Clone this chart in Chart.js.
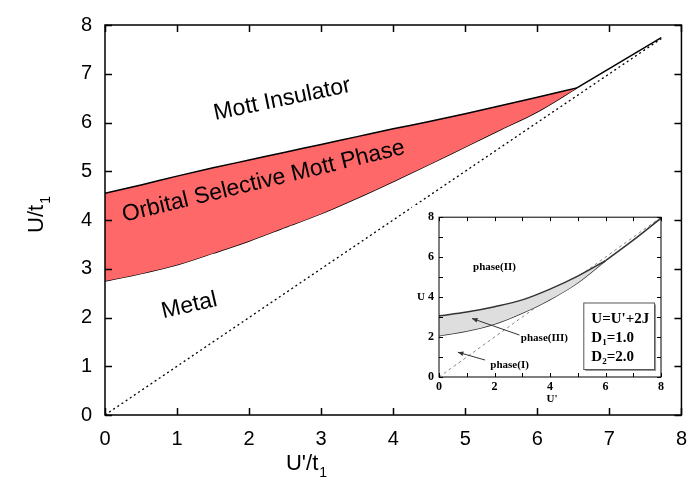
<!DOCTYPE html>
<html>
<head>
<meta charset="utf-8">
<script src="https://cdn.jsdelivr.net/npm/chart.js@4.4.1/dist/chart.umd.min.js"></script>
</head>
<body style="margin:0">
<canvas id="mainChart" width="699" height="487"></canvas>
<canvas id="frameLayer" width="699" height="487" style="position:absolute; left:0; top:0; pointer-events:none"></canvas>
<canvas id="insetChart" width="258" height="203" style="position:absolute; left:412px; top:205px; background:#fff"></canvas>
<script>
// Main phase diagram (U'/t1 vs U/t1)
const mainX = [0, 0.5, 1, 1.5, 2, 2.5, 3, 3.5, 4, 4.5, 5, 5.5, 6, 6.55];
const mainUpper = [4.55, 4.72, 4.9, 5.07, 5.23, 5.39, 5.55, 5.71, 5.87, 6.02, 6.18, 6.35, 6.52, 6.71];
const mainLower = [2.75, 2.9, 3.08, 3.32, 3.57, 3.85, 4.13, 4.45, 4.79, 5.14, 5.5, 5.86, 6.22, 6.71];
const mainTailX = [6.55, 7.72];
const mainTailY = [6.71, 7.74];
const mainDiagX = [0, 7.72];
const mainDiagY = [0, 7.72];
const mainTicks = [0, 1, 2, 3, 4, 5, 6, 7, 8];

// Inset (U' vs U)
const insetX = [0, 1, 2, 3, 4, 5, 6];
const insetUpper = [3.06, 3.25, 3.52, 3.86, 4.4, 5.05, 5.82];
const insetLower = [2.07, 2.3, 2.65, 3.2, 3.88, 4.72, 5.82];
const insetTailX = [6, 7, 8];
const insetTailY = [5.82, 6.85, 7.95];
const insetDiagX = [0, 8];
const insetDiagY = [0, 8];
const insetTickLabels = ['0', '', '2', '', '4', '', '6', '', '8'];

const SANS = '"Liberation Sans", Arial, sans-serif';
const SERIF = '"Liberation Serif", "Times New Roman", serif';

function toPoints(xs, ys) {
    return xs.map((x, i) => ({ x: x, y: ys[i] }));
}

/**
 * Frame plus inward tick marks on all four sides, drawn on ctx
 * using the chart's area and scales
 */
function drawAxesBox(ctx, chart, len, width) {
    const a = chart.chartArea;
    const xScale = chart.scales.x;
    const yScale = chart.scales.y;
    ctx.save();
    ctx.strokeStyle = '#000';
    ctx.lineWidth = width;
    ctx.strokeRect(a.left, a.top, a.right - a.left, a.bottom - a.top);
    xScale.ticks.forEach(t => {
        const p = Math.round(xScale.getPixelForValue(t.value)) + 0.5;
        ctx.beginPath();
        ctx.moveTo(p, a.bottom); ctx.lineTo(p, a.bottom - len);
        ctx.moveTo(p, a.top); ctx.lineTo(p, a.top + len);
        ctx.stroke();
    });
    yScale.ticks.forEach(t => {
        const p = Math.round(yScale.getPixelForValue(t.value)) + 0.5;
        ctx.beginPath();
        ctx.moveTo(a.left, p); ctx.lineTo(a.left + len, p);
        ctx.moveTo(a.right, p); ctx.lineTo(a.right - len, p);
        ctx.stroke();
    });
    ctx.restore();
}

function drawRotated(ctx, text, x, y, deg, font) {
    ctx.save();
    ctx.translate(x, y);
    ctx.rotate(deg * Math.PI / 180);
    ctx.font = font;
    ctx.textAlign = 'center';
    ctx.textBaseline = 'middle';
    ctx.fillStyle = '#000';
    ctx.fillText(text, 0, 0);
    ctx.restore();
}

// text with a subscript, centred at (x,y) after rotation
function drawSubscripted(ctx, base, sub, x, y, deg, size, family) {
    ctx.save();
    ctx.translate(x, y);
    ctx.rotate(deg * Math.PI / 180);
    ctx.fillStyle = '#000';
    ctx.textBaseline = 'alphabetic';
    ctx.font = size + 'px ' + family;
    const wb = ctx.measureText(base).width;
    ctx.font = Math.round(size * 0.62) + 'px ' + family;
    const ws = ctx.measureText(sub).width;
    const x0 = -(wb + ws) / 2;
    ctx.font = size + 'px ' + family;
    ctx.fillText(base, x0, size * 0.36);
    ctx.font = Math.round(size * 0.62) + 'px ' + family;
    ctx.fillText(sub, x0 + wb + 1, size * 0.36 + size * 0.3);
    ctx.restore();
}

/**
 * Main chart decorations: frame (on overlay), phase labels, axis titles
 */
const mainDecor = {
    id: 'mainDecor',
    afterDraw(chart) {
        const ctx = chart.ctx;
        const xs = chart.scales.x;
        const ys = chart.scales.y;

        const layer = document.getElementById('frameLayer');
        if (layer) {
            const lctx = layer.getContext('2d');
            lctx.clearRect(0, 0, layer.width, layer.height);
            drawAxesBox(lctx, chart, 7, 1.5);
        }

        drawRotated(ctx, 'Mott Insulator', xs.getPixelForValue(2.46), ys.getPixelForValue(6.47), -11.8, '23px ' + SANS);
        drawRotated(ctx, 'Orbital Selective Mott Phase', xs.getPixelForValue(2.2), ys.getPixelForValue(4.79), -13.6, '23px ' + SANS);
        drawRotated(ctx, 'Metal', xs.getPixelForValue(1.17), ys.getPixelForValue(2.24), -13, '23px ' + SANS);

        drawSubscripted(ctx, 'U/t', '1', 35, 215, -90, 22, SANS);
        drawSubscripted(ctx, "U'/t", '1', 306, 462, 0, 22, SANS);
    }
};

function initializeMainChart() {
    const ctx = document.getElementById('mainChart');
    if (!ctx) return;

    new Chart(ctx.getContext('2d'), {
        type: 'scatter',
        data: {
            datasets: [{
                data: toPoints(mainX, mainUpper),
                showLine: true,
                borderColor: '#000',
                borderWidth: 1.5,
                backgroundColor: 'rgb(255, 104, 104)',
                fill: '+1',
                pointRadius: 0,
                cubicInterpolationMode: 'monotone'
            }, {
                data: toPoints(mainX, mainLower),
                showLine: true,
                borderColor: '#000',
                borderWidth: 1.5,
                fill: false,
                pointRadius: 0,
                cubicInterpolationMode: 'monotone'
            }, {
                data: toPoints(mainTailX, mainTailY),
                showLine: true,
                borderColor: '#000',
                borderWidth: 1.5,
                fill: false,
                pointRadius: 0
            }, {
                data: toPoints(mainDiagX, mainDiagY),
                showLine: true,
                borderColor: '#000',
                borderWidth: 1.3,
                borderDash: [2, 3],
                fill: false,
                pointRadius: 0
            }]
        },
        options: {
            responsive: false,
            animation: false,
            devicePixelRatio: 1,
            layout: { padding: { left: 0, top: 7, right: 6.4, bottom: 0 } },
            plugins: {
                legend: { display: false },
                tooltip: { enabled: false }
            },
            scales: {
                x: {
                    type: 'linear',
                    min: 0,
                    max: 8,
                    afterFit: s => { s.height = 72; },
                    afterBuildTicks: s => { s.ticks = mainTicks.map(v => ({ value: v })); },
                    grid: { display: false, drawTicks: false },
                    border: { display: false },
                    ticks: {
                        color: '#000',
                        padding: 12,
                        font: { family: SANS, size: 20 }
                    }
                },
                y: {
                    type: 'linear',
                    min: 0,
                    max: 8,
                    afterFit: s => { s.width = 105; },
                    afterBuildTicks: s => { s.ticks = mainTicks.map(v => ({ value: v })); },
                    grid: { display: false, drawTicks: false },
                    border: { display: false },
                    ticks: {
                        color: '#000',
                        padding: 13,
                        font: { family: SANS, size: 20 }
                    }
                }
            }
        },
        plugins: [mainDecor]
    });
}

/**
 * Inset decorations: frame, phase labels, arrows, parameter box
 */
const insetDecor = {
    id: 'insetDecor',
    afterDraw(chart) {
        const ctx = chart.ctx;
        const xs = chart.scales.x;
        const ys = chart.scales.y;
        drawAxesBox(ctx, chart, 4, 1);

        const px = v => xs.getPixelForValue(v);
        const py = v => ys.getPixelForValue(v);
        const font = 'bold 11px ' + SERIF;

        ctx.save();
        ctx.fillStyle = '#000';
        ctx.font = font;
        ctx.textBaseline = 'middle';
        ctx.textAlign = 'center';
        ctx.fillText('phase(II)', px(2.0), py(5.5));
        ctx.textAlign = 'left';
        ctx.fillText('phase(III)', px(2.95), py(1.94));
        ctx.fillText('phase(I)', px(1.85), py(0.6));

        // arrows
        const arrow = (x1, y1, x2, y2) => {
            const ax = px(x1), ay = py(y1), bx = px(x2), by = py(y2);
            const ang = Math.atan2(by - ay, bx - ax);
            ctx.strokeStyle = '#333';
            ctx.lineWidth = 1;
            ctx.beginPath();
            ctx.moveTo(ax, ay);
            ctx.lineTo(bx, by);
            ctx.stroke();
            ctx.fillStyle = '#333';
            ctx.beginPath();
            ctx.moveTo(bx, by);
            ctx.lineTo(bx - 6 * Math.cos(ang - 0.4), by - 6 * Math.sin(ang - 0.4));
            ctx.lineTo(bx - 6 * Math.cos(ang + 0.4), by - 6 * Math.sin(ang + 0.4));
            ctx.closePath();
            ctx.fill();
        };
        arrow(2.9, 2.1, 1.19, 2.93);
        arrow(1.66, 0.85, 0.68, 1.24);

        // parameter box
        const bx = px(5.2), by = py(3.73);
        const bw = px(7.75) - bx, bh = py(0.4) - by;
        ctx.fillStyle = '#999';
        ctx.fillRect(bx + 2, by + 2, bw, bh);
        ctx.fillStyle = '#fff';
        ctx.fillRect(bx, by, bw, bh);
        ctx.strokeStyle = '#555';
        ctx.lineWidth = 1;
        ctx.strokeRect(bx + 0.5, by + 0.5, bw, bh);
        ctx.fillStyle = '#000';
        ctx.textAlign = 'left';
        ctx.textBaseline = 'alphabetic';
        const big = 'bold 15px ' + SERIF;
        const small = 'bold 9px ' + SERIF;
        const tx = bx + 8;
        ctx.font = big;
        ctx.fillText("U=U'+2J", tx, by + 21);
        const rows = [['D', '1', '=1.0', by + 40], ['D', '2', '=2.0', by + 59]];
        rows.forEach(r => {
            ctx.font = big;
            ctx.fillText(r[0], tx, r[3]);
            const w0 = ctx.measureText(r[0]).width;
            ctx.font = small;
            ctx.fillText(r[1], tx + w0, r[3] + 3);
            const w1 = ctx.measureText(r[1]).width;
            ctx.font = big;
            ctx.fillText(r[2], tx + w0 + w1, r[3]);
        });

        // axis titles
        ctx.font = font;
        ctx.textAlign = 'center';
        ctx.textBaseline = 'middle';
        ctx.fillText('U', 9, 92);
        ctx.fillText("U'", 140, 194);
        ctx.restore();
    }
};

function initializeInsetChart() {
    const ctx = document.getElementById('insetChart');
    if (!ctx) return;

    const tickFont = { family: SERIF, size: 12, weight: 'bold' };

    new Chart(ctx.getContext('2d'), {
        type: 'scatter',
        data: {
            datasets: [{
                data: toPoints(insetX, insetUpper),
                showLine: true,
                borderColor: '#333',
                borderWidth: 1.5,
                backgroundColor: 'rgb(222, 222, 222)',
                fill: '+1',
                pointRadius: 0,
                cubicInterpolationMode: 'monotone'
            }, {
                data: toPoints(insetX, insetLower),
                showLine: true,
                borderColor: '#333',
                borderWidth: 1.5,
                fill: false,
                pointRadius: 0,
                cubicInterpolationMode: 'monotone'
            }, {
                data: toPoints(insetTailX, insetTailY),
                showLine: true,
                borderColor: '#333',
                borderWidth: 1.5,
                fill: false,
                pointRadius: 0,
                cubicInterpolationMode: 'monotone'
            }, {
                data: toPoints(insetDiagX, insetDiagY),
                showLine: true,
                borderColor: '#888',
                borderWidth: 1,
                borderDash: [3, 3],
                fill: false,
                pointRadius: 0
            }]
        },
        options: {
            responsive: false,
            animation: false,
            devicePixelRatio: 1,
            layout: { padding: { left: 0, top: 11, right: 9, bottom: 0 } },
            plugins: {
                legend: { display: false },
                tooltip: { enabled: false }
            },
            scales: {
                x: {
                    type: 'linear',
                    min: 0,
                    max: 8,
                    afterFit: s => { s.height = 31; },
                    grid: { display: false, drawTicks: false },
                    border: { display: false },
                    ticks: {
                        stepSize: 1,
                        autoSkip: false,
                        maxRotation: 0,
                        color: '#000',
                        padding: 3,
                        font: tickFont,
                        callback: (v, i) => insetTickLabels[i]
                    }
                },
                y: {
                    type: 'linear',
                    min: 0,
                    max: 8,
                    afterFit: s => { s.width = 27; },
                    grid: { display: false, drawTicks: false },
                    border: { display: false },
                    ticks: {
                        stepSize: 1,
                        autoSkip: false,
                        color: '#000',
                        padding: 5,
                        font: tickFont,
                        callback: (v, i) => insetTickLabels[i]
                    }
                }
            }
        },
        plugins: [insetDecor]
    });
}

initializeMainChart();
initializeInsetChart();
</script>
</body>
</html>
